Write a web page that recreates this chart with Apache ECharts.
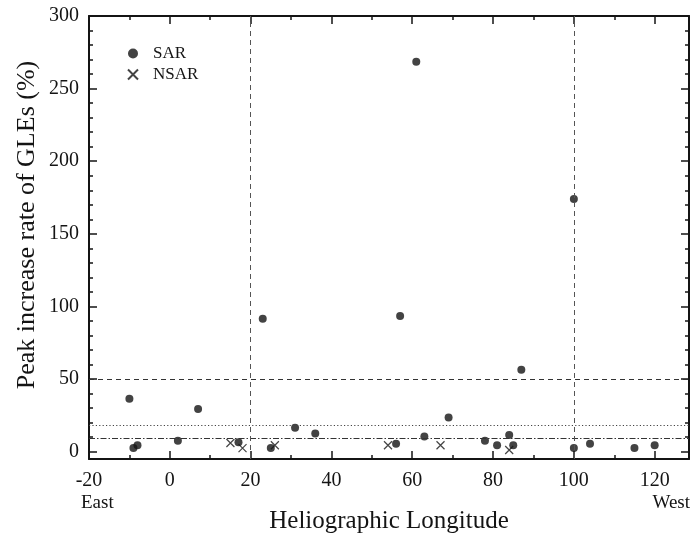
<!DOCTYPE html>
<html>
<head>
<meta charset="utf-8">
<script src="https://cdn.jsdelivr.net/npm/echarts@6/dist/echarts.min.js"></script>
<style>
html,body{margin:0;padding:0;background:#fff;}
#chart{width:692px;height:539px;}
</style>
</head>
<body>
<div id="chart"></div>
<script>
// SAR events: heliographic longitude and peak increase rate (%)
const sarLon  = [-10, -9, -8, 2, 7, 17, 23, 25, 31, 36, 56, 57, 61, 63, 69, 78, 81, 84, 85, 87, 100, 100, 104, 115, 120];
const sarRate = [36.5, 2.5, 4.5, 7.5, 29.5, 6.5, 91.5, 2.5, 16.5, 12.5, 5.5, 93.5, 268.5, 10.5, 23.5, 7.5, 4.5, 11.5, 4.5, 56.5, 174, 2.5, 5.5, 2.5, 4.5];
// NSAR events
const nsarLon  = [15, 18, 26, 54, 67, 84];
const nsarRate = [6, 2.5, 4.5, 4.5, 4.5, 1.2];
// reference lines
const hLevels = [50, 18.5, 9.5];
const vLevels = [20, 100];
// axis settings
const xMin = -20, xMax = 128.5, xStep = 20;
const yMin = -5, yMax = 300, yStep = 50;

const FONT = 'Liberation Serif';
const INK = '#141414';

const sarData = sarLon.map((x, i) => [x, sarRate[i]]);
const nsarData = nsarLon.map((x, i) => [x, nsarRate[i]]);

const crossPath = 'path://M0,0L10,10M10,0L0,10';

function axisCommon(showLabel, step, margin) {
  return {
    axisLine: { show: true, onZero: false, lineStyle: { color: INK, width: 2 } },
    axisTick: { show: true, inside: true, length: 8, lineStyle: { color: INK, width: 1.5 } },
    minorTick: { show: true, splitNumber: step === xStep ? 2 : 5, length: 4, lineStyle: { color: INK, width: 1.5 } },
    splitLine: { show: false },
    minorSplitLine: { show: false },
    axisLabel: {
      show: showLabel, margin: margin,
      fontFamily: FONT, fontSize: 20, color: INK,
      formatter: v => (Math.abs(v % step) < 1e-9 ? String(v) : '')
    }
  };
}

const option = {
  animation: false,
  backgroundColor: '#fff',
  grid: { left: 89, right: 3, top: 16, bottom: 78, containLabel: false },
  legend: {
    orient: 'vertical',
    left: 122, top: 40,
    itemWidth: 10, itemHeight: 10, itemGap: 4,
    textStyle: { fontFamily: FONT, fontSize: 17, color: INK, padding: [0, 0, 0, 10] },
    data: ['SAR', 'NSAR']
  },
  xAxis: [
    Object.assign({
      type: 'value', position: 'bottom', min: xMin, max: xMax,
      minInterval: xStep, maxInterval: xStep, splitNumber: 7,
      name: 'Heliographic Longitude', nameLocation: 'middle', nameGap: 50,
      nameTextStyle: { fontFamily: FONT, fontSize: 25, color: INK }
    }, axisCommon(true, xStep, 12)),
    Object.assign({
      type: 'value', position: 'top', min: xMin, max: xMax,
      minInterval: xStep, maxInterval: xStep, splitNumber: 7
    }, axisCommon(false, xStep, 8))
  ],
  yAxis: [
    Object.assign({
      type: 'value', position: 'left', min: yMin, max: yMax,
      minInterval: yStep, maxInterval: yStep, splitNumber: 6
    }, axisCommon(true, yStep, 10)),
    Object.assign({
      type: 'value', position: 'right', min: yMin, max: yMax,
      minInterval: yStep, maxInterval: yStep, splitNumber: 6
    }, axisCommon(false, yStep, 8))
  ],
  graphic: [
    { type: 'text', left: 81, top: 494, silent: true,
      style: { text: 'East', font: '19px "Liberation Serif"', fill: INK } },
    { type: 'text', right: 2, top: 494, silent: true,
      style: { text: 'West', font: '19px "Liberation Serif"', fill: INK } },
    { type: 'text', x: 27, y: 225, rotation: Math.PI / 2, silent: true,
      style: { text: 'Peak increase rate of GLEs (%)', font: '26px "Liberation Serif"', fill: INK,
               align: 'center', verticalAlign: 'middle' } }
  ],
  series: [
    {
      name: 'SAR', type: 'scatter', xAxisIndex: 0, yAxisIndex: 0,
      symbol: 'circle', symbolSize: 8,
      itemStyle: { color: INK },
      data: sarData,
      markLine: {
        silent: true, symbol: 'none', animation: false,
        label: { show: false },
        data: [
          { yAxis: hLevels[0], lineStyle: { color: '#333', width: 1, type: [5, 4] } },
          { yAxis: hLevels[1], lineStyle: { color: '#444', width: 1, type: [1.2, 2.2] } },
          { yAxis: hLevels[2], lineStyle: { color: '#333', width: 1, type: [6, 2, 1.5, 2] } },
          { xAxis: vLevels[0], lineStyle: { color: '#555', width: 1, type: [5, 4] } },
          { xAxis: vLevels[1], lineStyle: { color: '#555', width: 1, type: [5, 4] } }
        ]
      }
    },
    {
      name: 'NSAR', type: 'scatter', xAxisIndex: 0, yAxisIndex: 0,
      symbol: crossPath, symbolSize: 8,
      itemStyle: { color: 'rgba(0,0,0,0)', borderColor: INK, borderWidth: 1.2 },
      data: nsarData
    }
  ]
};

const chart = echarts.init(document.getElementById('chart'), null, { renderer: 'canvas' });
chart.setOption(option);
</script>
</body>
</html>
